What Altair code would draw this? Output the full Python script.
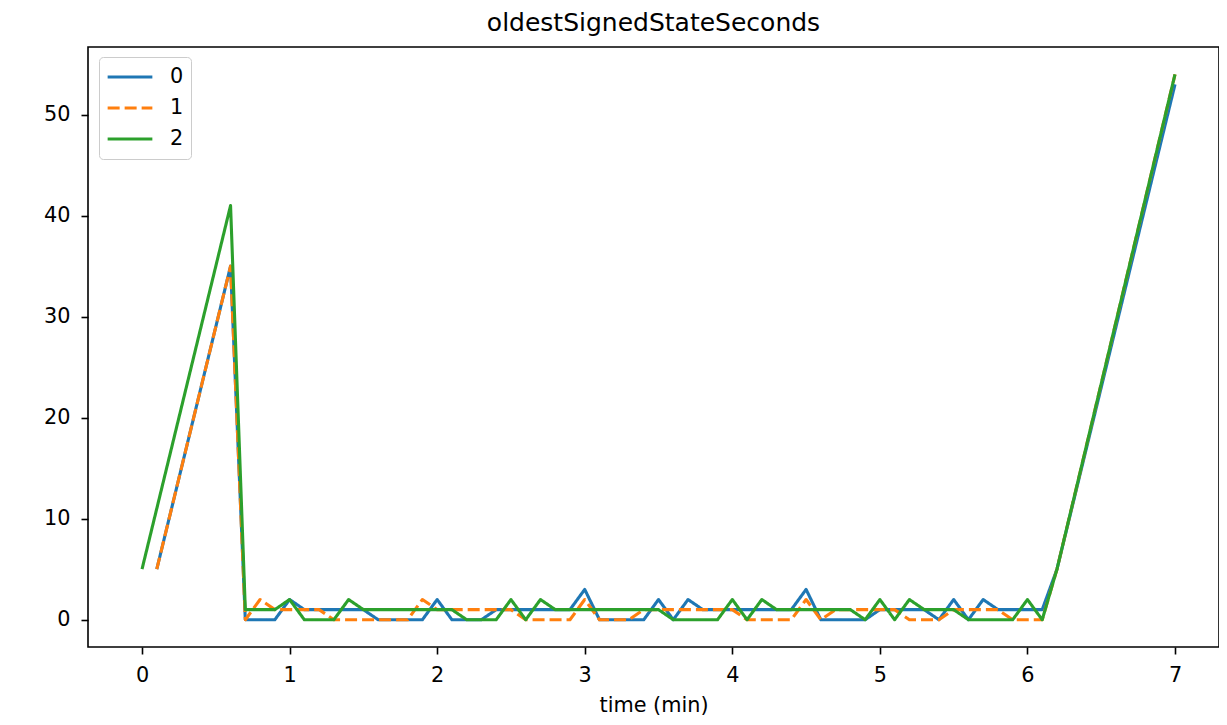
import altair as alt
import pandas as pd

# x positions (minutes)
times_blue = [0.1, 0.6, 0.7, 0.8, 0.9, 1.0, 1.1, 1.2, 1.3, 1.4, 1.5, 1.6, 1.7, 1.8, 1.9, 2.0,
              2.1, 2.2, 2.3, 2.4, 2.5, 2.6, 2.7, 2.8, 2.9, 3.0, 3.1, 3.2, 3.3, 3.4, 3.5, 3.6,
              3.7, 3.8, 3.9, 4.0, 4.1, 4.2, 4.3, 4.4, 4.5, 4.6, 4.7, 4.8, 4.9, 5.0, 5.1, 5.2,
              5.3, 5.4, 5.5, 5.6, 5.7, 5.8, 5.9, 6.0, 6.1, 6.2, 7.0]
times_orange = [0.1, 0.6, 0.7, 0.8, 0.9, 1.0, 1.1, 1.2, 1.3, 1.4, 1.5, 1.6, 1.7, 1.8, 1.9, 2.0,
                2.1, 2.2, 2.3, 2.4, 2.5, 2.6, 2.7, 2.8, 2.9, 3.0, 3.1, 3.2, 3.3, 3.4, 3.5, 3.6,
                3.7, 3.8, 3.9, 4.0, 4.1, 4.2, 4.3, 4.4, 4.5, 4.6, 4.7, 4.8, 4.9, 5.0, 5.1, 5.2,
                5.3, 5.4, 5.5, 5.6, 5.7, 5.8, 5.9, 6.0, 6.1, 6.2, 7.0]
times_green = [0.0, 0.6, 0.7, 0.8, 0.9, 1.0, 1.1, 1.2, 1.3, 1.4, 1.5, 1.6, 1.7, 1.8, 1.9, 2.0,
               2.1, 2.2, 2.3, 2.4, 2.5, 2.6, 2.7, 2.8, 2.9, 3.0, 3.1, 3.2, 3.3, 3.4, 3.5, 3.6,
               3.7, 3.8, 3.9, 4.0, 4.1, 4.2, 4.3, 4.4, 4.5, 4.6, 4.7, 4.8, 4.9, 5.0, 5.1, 5.2,
               5.3, 5.4, 5.5, 5.6, 5.7, 5.8, 5.9, 6.0, 6.1, 6.2, 7.0]

# oldestSignedStateSeconds per node
values_blue = [5, 35, 0, 0, 0, 2, 1, 1, 1, 1, 1, 0, 0, 0, 0, 2,
               0, 0, 0, 1, 1, 1, 1, 1, 1, 3, 0, 0, 0, 0, 2, 0,
               2, 1, 1, 1, 1, 1, 1, 1, 3, 0, 0, 0, 0, 1, 1, 1,
               1, 0, 2, 0, 2, 1, 1, 1, 1, 5, 53]
values_orange = [5, 35, 0, 2, 1, 1, 1, 1, 0, 0, 0, 0, 0, 0, 2, 1,
                 1, 1, 1, 1, 1, 0, 0, 0, 0, 2, 0, 0, 0, 1, 1, 1,
                 1, 1, 1, 1, 0, 0, 0, 0, 2, 0, 1, 1, 1, 1, 1, 0,
                 0, 0, 1, 1, 1, 1, 0, 0, 0, 5, 54]
values_green = [5, 41, 1, 1, 1, 2, 0, 0, 0, 2, 1, 1, 1, 1, 1, 1,
                1, 0, 0, 0, 2, 0, 2, 1, 1, 1, 1, 1, 1, 1, 1, 0,
                0, 0, 0, 2, 0, 2, 1, 1, 1, 1, 1, 1, 0, 2, 0, 2,
                1, 1, 1, 0, 0, 0, 0, 2, 0, 5, 54]

series_names = ["0", "1", "2"]
series_colors = ["#1f77b4", "#ff7f0e", "#2ca02c"]
series_dashes = [[1, 0], [12, 5], [1, 0]]

x_ticks = [0, 1, 2, 3, 4, 5, 6, 7]
y_ticks = [0, 10, 20, 30, 40, 50]

rows = []
for name, ts, vs in zip(series_names,
                        [times_blue, times_orange, times_green],
                        [values_blue, values_orange, values_green]):
    for i, (t, v) in enumerate(zip(ts, vs)):
        rows.append({"series": name, "time": t, "value": v, "order": i})
df = pd.DataFrame(rows)

FONT = "DejaVu Sans"

legend = alt.Legend(
    title=None,
    orient="none",
    legendX=11,
    legendY=10,
    symbolType="stroke",
    symbolSize=2000,
    symbolStrokeWidth=3,
    clipHeight=26,
    rowPadding=5,
    labelFontSize=20.8,
    labelFont=FONT,
    labelColor="black",
    labelOffset=16,
    padding=7,
    fillColor="white",
    strokeColor="#cccccc",
    cornerRadius=4,
)

chart = alt.Chart(df).mark_line(strokeWidth=3.1, strokeCap="butt", strokeJoin="round").encode(
    x=alt.X("time:Q",
            scale=alt.Scale(domain=[-0.366, 7.298], nice=False, zero=False),
            axis=alt.Axis(values=x_ticks, format="d", title="time (min)",
                          grid=False, domain=False, tickSize=7, tickWidth=1.6,
                          tickColor="black", labelColor="black",
                          labelFontSize=20.8, labelFont=FONT, labelPadding=11,
                          titleFontSize=20.8, titleFont=FONT, titleFontWeight="normal",
                          titleColor="black", titlePadding=11)),
    y=alt.Y("value:Q",
            scale=alt.Scale(domain=[-2.7, 56.7], nice=False, zero=False),
            axis=alt.Axis(values=y_ticks, format="d", title=None,
                          grid=False, domain=False, tickSize=7, tickWidth=1.6,
                          tickColor="black", labelColor="black",
                          labelFontSize=20.8, labelFont=FONT, labelPadding=11)),
    color=alt.Color("series:N",
                    scale=alt.Scale(domain=series_names, range=series_colors),
                    legend=legend),
    strokeDash=alt.StrokeDash("series:N",
                              scale=alt.Scale(domain=series_names, range=series_dashes),
                              legend=legend),
    order=alt.Order("order:Q"),
).properties(
    width=1131,
    height=600,
    title=alt.TitleParams("oldestSignedStateSeconds", fontSize=25, font=FONT,
                          fontWeight="normal", color="black", anchor="middle",
                          baseline="alphabetic", offset=-9),
    padding={"left": 80, "top": 39, "right": 0, "bottom": 70},
    autosize=alt.AutoSizeParams(type="none"),
).configure(
    background="white",
    view=alt.ViewConfig(stroke="black", strokeWidth=1.6),
)

chart.save("out.html", embed_options={"renderer": "svg", "actions": False})
